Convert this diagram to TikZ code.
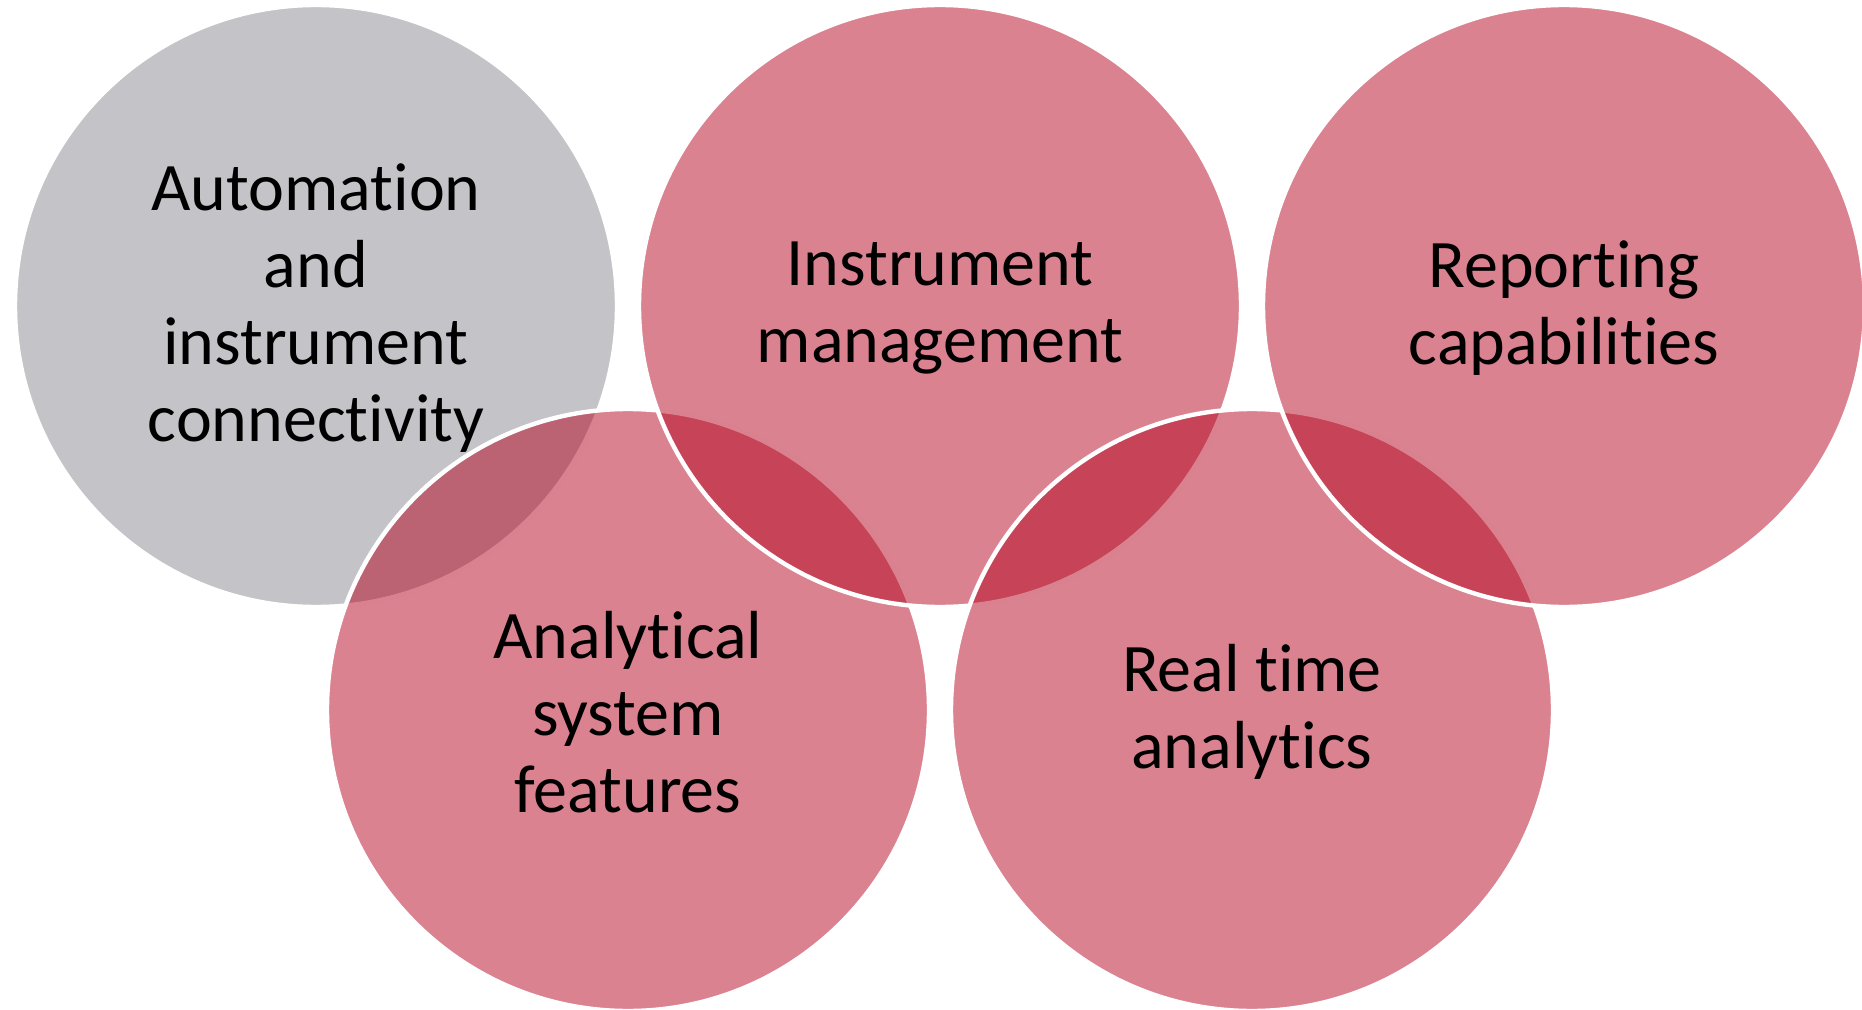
\documentclass[tikz,border=0pt]{standalone}
\usepackage{fontspec}
\setmainfont{Carlito}[RawFeature={-liga;-clig}]
\definecolor{ringgray}{RGB}{196,195,199}
\definecolor{ringred}{RGB}{181,5,33}
\begin{document}
\begin{tikzpicture}[x=0.5pt,y=-0.5pt,
  ring/.style={circle, minimum size=301pt, inner sep=0pt, outer sep=0pt,
    draw=white, line width=2.2pt},
  tint/.style={ring, fill=ringred, fill opacity=0.5, draw opacity=1},
  ringtext/.style={align=center, text=black, inner sep=0pt,
    font=\fontsize{34}{38.5}\selectfont, yshift=-1pt}]
\useasboundingbox (0,0) rectangle (1862,1010);
\clip (0,0) rectangle (1862,1010);
% circles, back to front
\node[ring, fill=ringgray] (auto) at (316,306) {};
\node[tint] (anal) at (628,710) {};
\node[tint] (inst) at (940,306) {};
\node[tint] (real) at (1252,710) {};
\node[tint] (rep) at (1564,306) {};
% captions on top of all circles
\node[ringtext] at (auto) {Automation\\and\\instrument\\connectivity};
\node[ringtext] at (anal) {Analytical\\system\\features};
\node[ringtext] at (inst) {Instrument\\management};
\node[ringtext] at (real) {Real time\\analytics};
\node[ringtext] at (rep) {Reporting\\capabilities};
\end{tikzpicture}
\end{document}
